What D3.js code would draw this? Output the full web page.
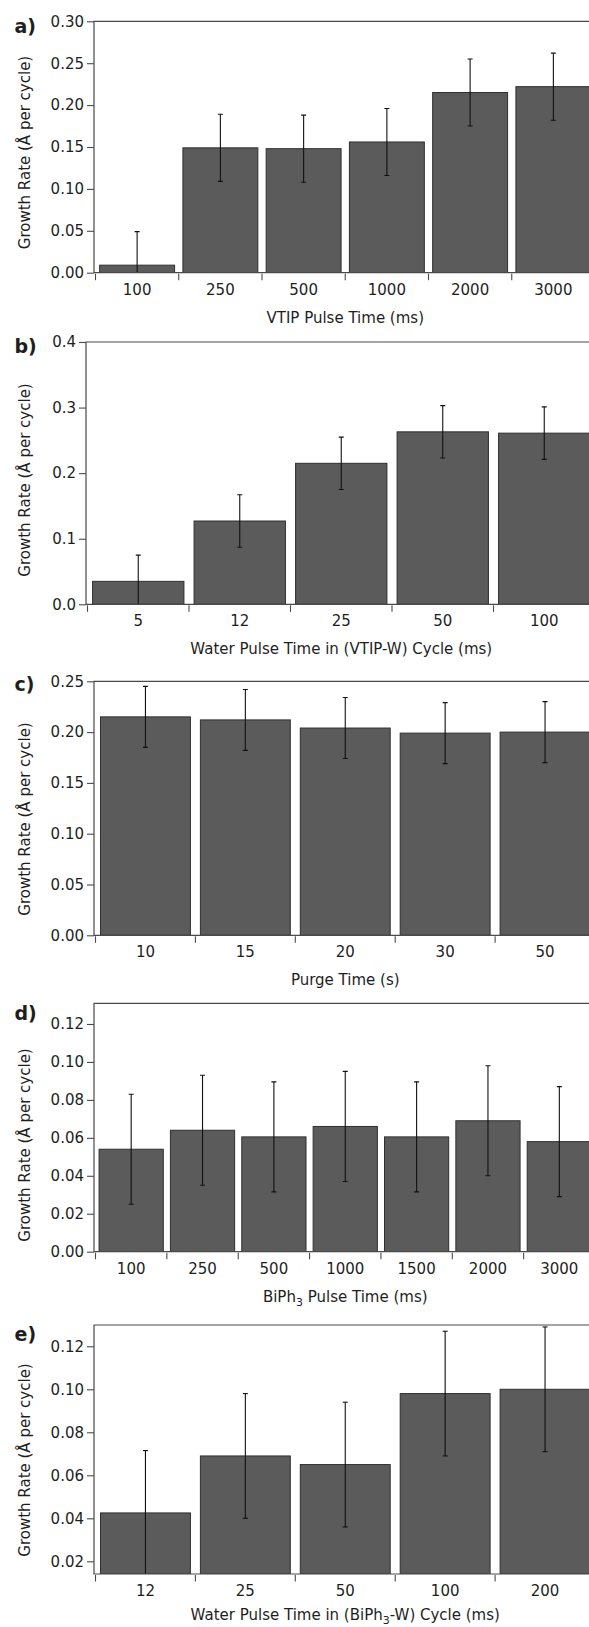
<!DOCTYPE html>
<html><head><meta charset="utf-8">
<script src="https://cdn.jsdelivr.net/npm/d3@7"></script>
<style>
html,body{margin:0;padding:0;background:#fff;}
svg{display:block;}
text{font-family:"DejaVu Sans",sans-serif;fill:#1e1e1e;}
</style></head><body>
<svg id="chart" width="589" height="1627"></svg>
<script>
// ---- data ----
const catsA = ["100","250","500","1000","2000","3000"];
const valsA = [0.009,0.149,0.148,0.156,0.215,0.222];
const errA  = [0.040,0.040,0.040,0.040,0.040,0.040];
const ticksA = [0,0.05,0.10,0.15,0.20,0.25,0.30];

const catsB = ["5","12","25","50","100"];
const valsB = [0.035,0.127,0.215,0.263,0.261];
const errB  = [0.040,0.040,0.040,0.040,0.040];
const ticksB = [0,0.1,0.2,0.3,0.4];

const catsC = ["10","15","20","30","50"];
const valsC = [0.215,0.212,0.204,0.199,0.200];
const errC  = [0.030,0.030,0.030,0.030,0.030];
const ticksC = [0,0.05,0.10,0.15,0.20,0.25];

const catsD = ["100","250","500","1000","1500","2000","3000"];
const valsD = [0.054,0.064,0.0605,0.066,0.0605,0.069,0.058];
const errD  = [0.029,0.029,0.029,0.029,0.029,0.029,0.029];
const ticksD = [0,0.02,0.04,0.06,0.08,0.10,0.12];

const catsE = ["12","25","50","100","200"];
const valsE = [0.0425,0.069,0.065,0.098,0.100];
const errE  = [0.029,0.029,0.029,0.029,0.029];
const ticksE = [0.02,0.04,0.06,0.08,0.10,0.12];

const yTitle = "Growth Rate (Å per cycle)";
const titleA = [{t:"VTIP Pulse Time (ms)"}];
const titleB = [{t:"Water Pulse Time in (VTIP-W) Cycle (ms)"}];
const titleC = [{t:"Purge Time (s)"}];
const titleD = [{t:"BiPh"},{t:"3",sub:true},{t:" Pulse Time (ms)"}];
const titleE = [{t:"Water Pulse Time in (BiPh"},{t:"3",sub:true},{t:"-W) Cycle (ms)"}];

const panels = [
  {label:"a)", cats:catsA, vals:valsA, errs:errA, ticks:ticksA, fmt:".2f", domain:[0,0.30],   title:titleA},
  {label:"b)", cats:catsB, vals:valsB, errs:errB, ticks:ticksB, fmt:".1f", domain:[0,0.4],    title:titleB},
  {label:"c)", cats:catsC, vals:valsC, errs:errC, ticks:ticksC, fmt:".2f", domain:[0,0.25],   title:titleC},
  {label:"d)", cats:catsD, vals:valsD, errs:errD, ticks:ticksD, fmt:".2f", domain:[0,0.1309], title:titleD},
  {label:"e)", cats:catsE, vals:valsE, errs:errE, ticks:ticksE, fmt:".2f", domain:[0.0141,0.1299], title:titleE}
];

// ---- layout ----
const layouts = [
  {left:94, top:21.3,   bottom:272.7,  labelY:32.5,   yTitleY:152.5, titleOff:50},
  {left:86, top:342.0,  bottom:604.3,  labelY:353,    yTitleY:480,   titleOff:50},
  {left:94, top:681.3,  bottom:935.3,  labelY:690.5,  yTitleY:819,   titleOff:50},
  {left:94, top:1003.3, bottom:1251.7, labelY:1019.5, yTitleY:1145,  titleOff:50},
  {left:94, top:1325,   bottom:1574,   labelY:1341,   yTitleY:1460,  titleOff:45.5}
];
const RIGHT = 595;
const FS = 15;

const svg = d3.select("#chart");
const defs = svg.append("defs");

panels.forEach((p,i)=>{
  const L = layouts[i];
  const g = svg.append("g");
  const y = d3.scaleLinear().domain(p.domain).range([L.bottom, L.top]);
  const x = d3.scaleBand().domain(p.cats).range([L.left+1.5, RIGHT]).paddingInner(0.1).paddingOuter(0.05);
  const base = y(p.domain[0]);

  defs.append("clipPath").attr("id","clip"+i).append("rect")
    .attr("x",L.left).attr("y",L.top).attr("width",RIGHT-L.left).attr("height",L.bottom-L.top);

  const plot = g.append("g").attr("clip-path",`url(#clip${i})`);
  const data = p.cats.map((c,j)=>({c, v:p.vals[j], e:p.errs[j]}));

  plot.selectAll("rect.bar").data(data).join("rect").attr("class","bar")
    .attr("x",d=>x(d.c)).attr("width",x.bandwidth())
    .attr("y",d=>y(d.v)).attr("height",d=>base - y(d.v))
    .attr("fill","#5b5b5b").attr("stroke","#2f2f2f").attr("stroke-width",1);

  const eb = plot.selectAll("g.err").data(data).join("g").attr("class","err")
    .attr("stroke","#111").attr("stroke-width",1.1);
  eb.append("line").attr("x1",d=>x(d.c)+x.bandwidth()/2).attr("x2",d=>x(d.c)+x.bandwidth()/2)
    .attr("y1",d=>y(d.v-d.e)).attr("y2",d=>y(d.v+d.e));
  eb.append("line").attr("x1",d=>x(d.c)+x.bandwidth()/2-2.5).attr("x2",d=>x(d.c)+x.bandwidth()/2+2.5)
    .attr("y1",d=>y(d.v+d.e)).attr("y2",d=>y(d.v+d.e));
  eb.append("line").attr("x1",d=>x(d.c)+x.bandwidth()/2-2.5).attr("x2",d=>x(d.c)+x.bandwidth()/2+2.5)
    .attr("y1",d=>y(d.v-d.e)).attr("y2",d=>y(d.v-d.e));

  // frame
  g.append("path").attr("d",`M${RIGHT},${L.top}H${L.left}V${L.bottom}H${RIGHT}`)
    .attr("fill","none").attr("stroke","#4a4a4a").attr("stroke-width",1.2);

  // y axis
  const ya = g.append("g").attr("transform",`translate(${L.left},0)`)
    .call(d3.axisLeft(y).tickValues(p.ticks).tickFormat(d3.format(p.fmt)).tickSize(7).tickPadding(3));
  ya.select(".domain").remove();
  ya.selectAll("line").attr("stroke","#4a4a4a").attr("stroke-width",1.1);
  ya.selectAll("text").attr("font-size",FS).attr("font-family","DejaVu Sans").attr("fill","#1e1e1e");

  // x axis labels
  const xa = g.append("g").attr("transform",`translate(0,${L.bottom})`)
    .call(d3.axisBottom(x).tickSize(0).tickPadding(11.3));
  xa.select(".domain").remove();
  xa.selectAll("text").attr("font-size",FS).attr("font-family","DejaVu Sans").attr("fill","#1e1e1e");
  // boundary ticks
  const off = x.step()*0.05;
  g.selectAll("line.bt").data(p.cats).join("line").attr("class","bt")
    .attr("x1",c=>x(c)-off).attr("x2",c=>x(c)-off)
    .attr("y1",L.bottom+1).attr("y2",L.bottom+7.5)
    .attr("stroke","#4a4a4a").attr("stroke-width",1.1);

  // x title
  const xt = g.append("text").attr("x",(L.left+1.5+RIGHT)/2).attr("y",L.bottom+L.titleOff)
    .attr("text-anchor","middle").attr("font-size",FS);
  p.title.forEach(part=>{
    const ts = xt.append("tspan").text(part.t);
    if(part.sub){ ts.attr("dy",4).attr("font-size",11); }
    else if(xt.selectAll("tspan").size()>1){ ts.attr("dy",-4); }
  });

  // y title
  g.append("text").attr("transform",`translate(30,${L.yTitleY}) rotate(-90)`)
    .attr("text-anchor","middle").attr("font-size",FS).text(yTitle);

  // panel label
  g.append("text").attr("x",14.5).attr("y",L.labelY).attr("font-size",19)
    .attr("font-weight","bold").attr("fill","#111").text(p.label);
});
</script>
</body></html>
